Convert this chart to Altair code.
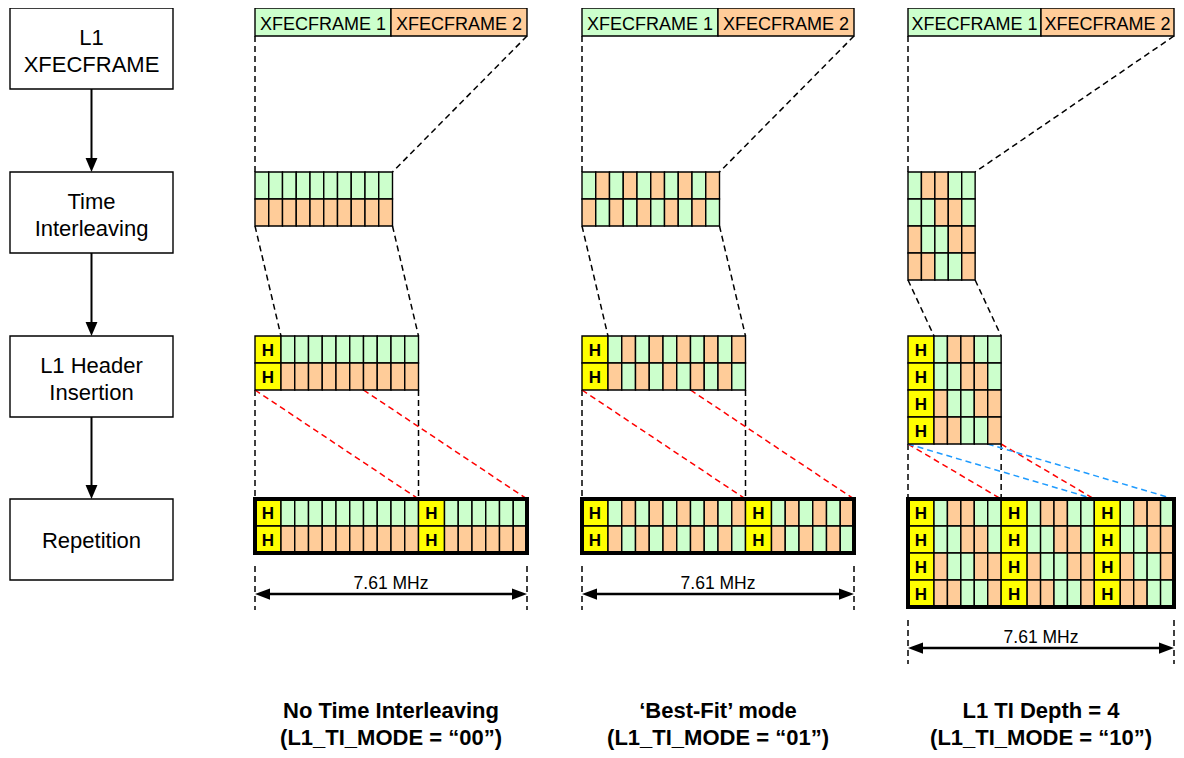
import altair as alt
import pandas as pd

# ---------------- data ----------------
stage_labels = [["L1", "XFECFRAME"], ["Time", "Interleaving"], ["L1 Header", "Insertion"], ["Repetition"]]
frame_labels = ["XFECFRAME 1", "XFECFRAME 2"]
mode_titles = ["No Time Interleaving", "\u2018Best-Fit\u2019 mode", "L1 TI Depth = 4"]
mode_codes = ["(L1_TI_MODE = \u201c00\u201d)", "(L1_TI_MODE = \u201c01\u201d)", "(L1_TI_MODE = \u201c10\u201d)"]
bandwidth_label = "7.61 MHz"
header_symbol = "H"

# cell contents after time interleaving: G = from XFECFRAME 1, O = from XFECFRAME 2
ti_pattern_00 = ["GGGGGGGGGG", "OOOOOOOOOO"]
ti_pattern_01 = ["GOGOGOGOGO", "OGOGOGOGOG"]
ti_pattern_10 = ["GOOGG", "GGOOG", "OGGOO", "OOGGO"]
patterns = [ti_pattern_00, ti_pattern_01, ti_pattern_10]

# number of data cells following each repeated header in the repetition block
repetition_segments = [[10, 6], [10, 6], [5, 5, 4]]

# ---------------- layout ----------------
COL_X = [255, 582, 908]
COL_SPAN = [272, 272, 266]
W_HDR = 26
ROW_H = 27
FRAME_TOP, FRAME_BOT = 8, 36
TI_TOP, HDR_TOP, REP_TOP = 172, 336, 499
BOX_X0, BOX_X1 = 10, 173
BOX_TOPS = [8, 172, 336, 499]
BOX_H = 81
ARROW_X = (BOX_X0 + BOX_X1) / 2

FILL = {"G": "#CCFFCC", "O": "#FFCC99", "H": "#FFFF00", "W": "#FFFFFF"}
COPY_COLORS = ["#000000", "#FF0000", "#1E9BFF"]

cells, frames, rules, dashed, texts, btexts = [], [], [], [], [], []
arrows_down, arrows_left, arrows_right = [], [], []

# left flow boxes
for i, (top, lab) in enumerate(zip(BOX_TOPS, stage_labels)):
    cells.append(dict(x=BOX_X0, x2=BOX_X1, y=top, y2=top + BOX_H, fill=FILL["W"]))
    if len(lab) == 2:
        texts.append(dict(x=ARROW_X, y=top + 37, text=lab[0], size=22))
        texts.append(dict(x=ARROW_X, y=top + 64, text=lab[1], size=22))
    else:
        texts.append(dict(x=ARROW_X, y=top + 49, text=lab[0], size=22))
    if i < len(BOX_TOPS) - 1:
        nxt = BOX_TOPS[i + 1]
        rules.append(dict(x=ARROW_X, x2=ARROW_X, y=top + BOX_H, y2=nxt - 10, sw=2))
        arrows_down.append(dict(x=ARROW_X, y=nxt))

for c, x0 in enumerate(COL_X):
    SPAN = COL_SPAN[c]
    pat = patterns[c]
    segs = repetition_segments[c]
    nrows = len(pat)
    ncells = len(pat[0])
    cw = (SPAN - len(segs) * W_HDR) / sum(segs)
    tiw = ncells * cw
    half = SPAN / 2

    # XFECFRAME bar
    cells.append(dict(x=x0, x2=x0 + half, y=FRAME_TOP, y2=FRAME_BOT, fill=FILL["G"]))
    cells.append(dict(x=x0 + half, x2=x0 + SPAN, y=FRAME_TOP, y2=FRAME_BOT, fill=FILL["O"]))
    texts.append(dict(x=x0 + half / 2, y=30, text=frame_labels[0], size=18))
    texts.append(dict(x=x0 + half * 1.5, y=30, text=frame_labels[1], size=18))

    # time interleaving grid
    for r, row in enumerate(pat):
        for k, v in enumerate(row):
            cells.append(dict(x=x0 + k * cw, x2=x0 + (k + 1) * cw,
                              y=TI_TOP + r * ROW_H, y2=TI_TOP + (r + 1) * ROW_H, fill=FILL[v]))
    ti_bot = TI_TOP + nrows * ROW_H

    # header insertion grid
    for r, row in enumerate(pat):
        cells.append(dict(x=x0, x2=x0 + W_HDR, y=HDR_TOP + r * ROW_H, y2=HDR_TOP + (r + 1) * ROW_H, fill=FILL["H"]))
        btexts.append(dict(x=x0 + W_HDR / 2, y=HDR_TOP + r * ROW_H + ROW_H / 2 + 6, text=header_symbol, size=17))
        for k, v in enumerate(row):
            xa = x0 + W_HDR + k * cw
            cells.append(dict(x=xa, x2=xa + cw, y=HDR_TOP + r * ROW_H, y2=HDR_TOP + (r + 1) * ROW_H, fill=FILL[v]))
    hdr_bot = HDR_TOP + nrows * ROW_H

    # repetition grid
    for r, row in enumerate(pat):
        xa = x0
        for L in segs:
            cells.append(dict(x=xa, x2=xa + W_HDR, y=REP_TOP + r * ROW_H, y2=REP_TOP + (r + 1) * ROW_H, fill=FILL["H"]))
            btexts.append(dict(x=xa + W_HDR / 2, y=REP_TOP + r * ROW_H + ROW_H / 2 + 6, text=header_symbol, size=17))
            xa += W_HDR
            for k in range(L):
                cells.append(dict(x=xa, x2=xa + cw, y=REP_TOP + r * ROW_H, y2=REP_TOP + (r + 1) * ROW_H, fill=FILL[row[k]]))
                xa += cw
    rep_bot = REP_TOP + nrows * ROW_H
    frames.append(dict(x=x0, x2=x0 + SPAN, y=REP_TOP, y2=rep_bot))

    # dashed mapping lines
    dashed.append(dict(x=x0, y=FRAME_BOT, x2=x0, y2=TI_TOP, color="#000000"))
    dashed.append(dict(x=x0 + SPAN, y=FRAME_BOT, x2=x0 + tiw, y2=TI_TOP, color="#000000"))
    dashed.append(dict(x=x0, y=ti_bot, x2=x0 + W_HDR, y2=HDR_TOP, color="#000000"))
    dashed.append(dict(x=x0 + tiw, y=ti_bot, x2=x0 + W_HDR + tiw, y2=HDR_TOP, color="#000000"))
    start = x0
    for j, L in enumerate(segs):
        end = start + W_HDR + L * cw
        col = COPY_COLORS[j]
        dashed.append(dict(x=x0, y=hdr_bot, x2=start, y2=REP_TOP, color=col))
        dashed.append(dict(x=x0 + W_HDR + L * cw, y=hdr_bot, x2=end, y2=REP_TOP, color=col))
        start = end

    # bandwidth dimension
    dashed.append(dict(x=x0, y=rep_bot + 13, x2=x0, y2=rep_bot + 57, color="#000000"))
    dashed.append(dict(x=x0 + SPAN, y=rep_bot + 13, x2=x0 + SPAN, y2=rep_bot + 57, color="#000000"))
    rules.append(dict(x=x0 + 8, x2=x0 + SPAN - 8, y=rep_bot + 41, y2=rep_bot + 41, sw=2.5))
    arrows_left.append(dict(x=x0, y=rep_bot + 41))
    arrows_right.append(dict(x=x0 + SPAN, y=rep_bot + 41))
    texts.append(dict(x=x0 + SPAN / 2, y=rep_bot + 36, text=bandwidth_label, size=17.5))

    # mode titles
    btexts.append(dict(x=x0 + SPAN / 2, y=718, text=mode_titles[c], size=22))
    btexts.append(dict(x=x0 + SPAN / 2, y=745, text=mode_codes[c], size=22))

# ---------------- chart ----------------
X = alt.X("x:Q", scale=alt.Scale(domain=[8, 1176], nice=False, zero=False), axis=None)
Y = alt.Y("y:Q", scale=alt.Scale(domain=[8, 750], nice=False, zero=False, reverse=True), axis=None)

cell_layer = alt.Chart(pd.DataFrame(cells)).mark_rect(stroke="#000000", strokeWidth=1.4).encode(
    x=X, x2="x2:Q", y=Y, y2="y2:Q", fill=alt.Fill("fill:N", scale=None))
frame_layer = alt.Chart(pd.DataFrame(frames)).mark_rect(filled=False, stroke="#000000", strokeWidth=4).encode(
    x=X, x2="x2:Q", y=Y, y2="y2:Q")
dash_layer = alt.Chart(pd.DataFrame(dashed)).mark_rule(strokeDash=[6, 4], strokeWidth=1.5).encode(
    x=X, x2="x2:Q", y=Y, y2="y2:Q", color=alt.Color("color:N", scale=None))
rule_layer = alt.Chart(pd.DataFrame(rules)).mark_rule(color="#000000").encode(
    x=X, x2="x2:Q", y=Y, y2="y2:Q", strokeWidth=alt.StrokeWidth("sw:Q", scale=None))
down_layer = alt.Chart(pd.DataFrame(arrows_down)).mark_point(
    shape="M0,0L-0.85,-2L0.85,-2Z", size=196, filled=True, color="#000000", opacity=1).encode(x=X, y=Y)
left_layer = alt.Chart(pd.DataFrame(arrows_left)).mark_point(
    shape="M0,0L2,-0.75L2,0.75Z", size=225, filled=True, color="#000000", opacity=1).encode(x=X, y=Y)
right_layer = alt.Chart(pd.DataFrame(arrows_right)).mark_point(
    shape="M0,0L-2,-0.75L-2,0.75Z", size=225, filled=True, color="#000000", opacity=1).encode(x=X, y=Y)
text_layer = alt.Chart(pd.DataFrame(texts)).mark_text(
    align="center", baseline="alphabetic", font="Liberation Sans", color="#000000").encode(
    x=X, y=Y, text="text:N", size=alt.Size("size:Q", scale=None))
btext_layer = alt.Chart(pd.DataFrame(btexts)).mark_text(
    align="center", baseline="alphabetic", font="Liberation Sans", fontWeight="bold", color="#000000").encode(
    x=X, y=Y, text="text:N", size=alt.Size("size:Q", scale=None))

chart = alt.layer(
    dash_layer, cell_layer, frame_layer, rule_layer, down_layer, left_layer, right_layer, text_layer, btext_layer
).properties(
    width=1168, height=742, padding=0, autosize=alt.AutoSizeParams(type="none"), background="#FFFFFF"
).configure_view(stroke=None)

chart.save("out.html", embed_options={"renderer": "svg", "actions": False})
